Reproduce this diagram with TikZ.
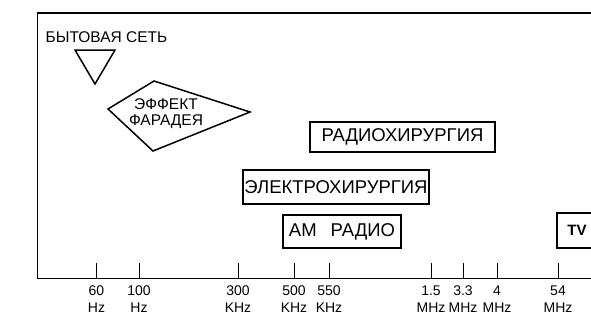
\documentclass[tikz,border=0pt]{standalone}
\usepackage{fontspec}
\setmainfont{Liberation Sans}
\begin{document}
\begin{tikzpicture}[x=1pt,y=-1pt,
  bandbox/.style={draw,line width=1.5pt,inner sep=0pt,font=\fontsize{18.5}{20}\selectfont},
  ticklabel/.style={align=center,anchor=north,inner sep=0pt,font=\fontsize{14}{16.5}\selectfont},
  freqtick/.style={line width=0.6pt}]
  \useasboundingbox (0,0) rectangle (591,322);
  \clip (0,0) rectangle (591,322);

  % frame: left edge, top edge and frequency axis
  \coordinate (tl) at (37.5,12.7);
  \coordinate (tr) at (600,12.7);
  \coordinate (bl) at (37.5,278.5);
  \coordinate (br) at (600,278.5);
  \draw[line width=1.8pt] (tr) -- (tl) -- (bl) -- (br);

  % household mains
  \node[font=\fontsize{15.5}{17}\selectfont,inner sep=0pt] (mains) at (106.5,37) {БЫТОВАЯ СЕТЬ};
  \draw[line width=1.5pt,line join=miter] (75,50) -- (115,50) -- (95,84) -- cycle;

  % Faraday effect kite
  \draw[line width=1.5pt,line join=miter] (108,109) -- (154,81) -- (250,112) -- (153,151) -- cycle;
  \node[align=center,inner sep=0pt,font=\fontsize{15.5}{16}\selectfont] (faraday) at (166,114) {ЭФФЕКТ\\ФАРАДЕЯ};

  % frequency bands
  \node[bandbox,minimum width=185pt,minimum height=30pt] (radio) at (402.5,137) {РАДИОХИРУРГИЯ};
  \node[bandbox,minimum width=186pt,minimum height=34pt] (electro) at (336,187) {ЭЛЕКТРОХИРУРГИЯ};
  \node[bandbox,minimum width=118pt,minimum height=33pt] (am) at (342,231.5) {АМ\hspace{14pt}РАДИО};
  \node[draw,line width=1.5pt,inner sep=0pt,minimum width=44pt,minimum height=35pt,
        font=\bfseries\fontsize{15}{17}\selectfont] (tv) at (579,230.5) {\hspace*{-4pt}TV};

  % ticks and their labels
  \foreach \x/\n/\u [count=\i] in {96.5/60/Hz, 139/100/Hz, 238/300/KHz, 294/500/KHz, 329/550/KHz,
                        431/1.5/MHz, 463/3.3/MHz, 497/4/MHz, 558/54/MHz} {
    \coordinate (t\i) at (\x,263);
    \coordinate (b\i) at (\x,278.5);
    \draw[freqtick] (t\i) -- (b\i);
    \node[ticklabel] (l\i) at (\x,286) {\n\\\u};
  }
\end{tikzpicture}
\end{document}
